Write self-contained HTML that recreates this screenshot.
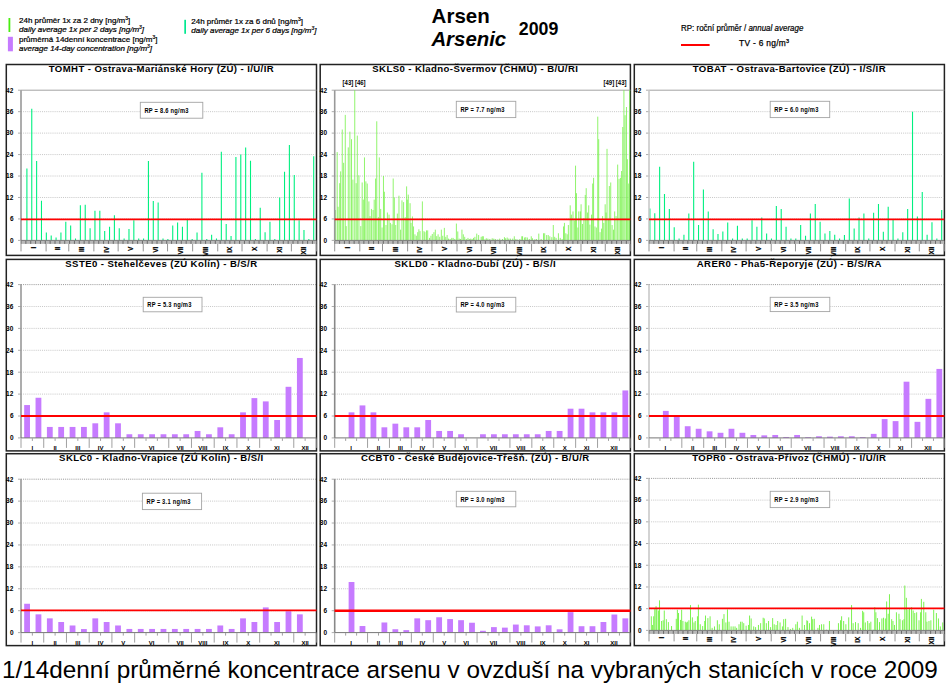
<!DOCTYPE html><html><head><meta charset="utf-8"><style>html,body{margin:0;padding:0;background:#fff;width:950px;height:691px;overflow:hidden;position:relative}</style></head><body><svg width="950" height="691" viewBox="0 0 950 691" font-family='"Liberation Sans", sans-serif' style="position:absolute;left:0;top:0">
<rect x="8.5" y="18" width="1.8" height="14" fill="#48EE10"/>
<text x="19" y="23.3" font-size="8" stroke="#000" stroke-width="0.22">24h průměr 1x za 2 dny [ng/m<tspan font-size="5" dy="-3">3</tspan><tspan dy="3">]</tspan></text>
<text x="19" y="32.2" font-size="8" stroke="#000" stroke-width="0.22" font-style="italic">daily average 1x per 2 days [ng/m<tspan font-size="5" dy="-3">3</tspan><tspan dy="3">]</tspan></text>
<rect x="7.9" y="36.8" width="5" height="14.5" fill="#C67BFF"/>
<text x="19" y="41.6" font-size="8" stroke="#000" stroke-width="0.22">průměrná 14denní koncentrace [ng/m<tspan font-size="5" dy="-3">3</tspan><tspan dy="3">]</tspan></text>
<text x="19" y="50.5" font-size="8" stroke="#000" stroke-width="0.22" font-style="italic">average 14-day concentration [ng/m<tspan font-size="5" dy="-3">3</tspan><tspan dy="3">]</tspan></text>
<rect x="184.3" y="19.8" width="1.7" height="14" fill="#00E890"/>
<text x="191.3" y="24.3" font-size="8" stroke="#000" stroke-width="0.22">24h průměr 1x za 6 dnů [ng/m<tspan font-size="5" dy="-3">3</tspan><tspan dy="3">]</tspan></text>
<text x="191.3" y="33.2" font-size="8" stroke="#000" stroke-width="0.22" font-style="italic">daily average 1x per 6 days [ng/m<tspan font-size="5" dy="-3">3</tspan><tspan dy="3">]</tspan></text>
<text x="431.6" y="22.7" font-size="20.5" font-weight="bold">Arsen</text>
<text x="431.4" y="46.3" font-size="20.4" font-weight="bold" font-style="italic">Arsenic</text>
<text x="518.8" y="35" font-size="17.8" font-weight="bold">2009</text>
<text transform="translate(681 31) scale(0.95 1)" font-size="8.4" stroke="#000" stroke-width="0.2">RP: roční průměr / <tspan font-style="italic">annual average</tspan></text>
<rect x="681" y="44" width="28.6" height="2" fill="#F00"/>
<text x="739" y="46.2" font-size="8.4" letter-spacing="0.3" stroke="#000" stroke-width="0.25">TV - 6 ng/m<tspan font-size="5.5" dy="-3.2">3</tspan></text>
<rect x="6.3" y="64.5" width="310.2" height="190.9" fill="#fff" stroke="#222" stroke-width="1.5"/>
<text transform="translate(161.4 71.9) scale(1 0.92)" text-anchor="middle" font-weight="bold" font-size="9.6" letter-spacing="0.4">TOMHT - Ostrava-Mariánské Hory (ZÚ) - I/U/IR</text>
<line x1="21" x2="316.5" y1="218.94" y2="218.94" stroke="#bdbdbd" stroke-width="0.85" stroke-dasharray="1 1.1"/>
<line x1="21" x2="316.5" y1="197.49" y2="197.49" stroke="#bdbdbd" stroke-width="0.85" stroke-dasharray="1 1.1"/>
<line x1="21" x2="316.5" y1="176.03" y2="176.03" stroke="#bdbdbd" stroke-width="0.85" stroke-dasharray="1 1.1"/>
<line x1="21" x2="316.5" y1="154.57" y2="154.57" stroke="#bdbdbd" stroke-width="0.85" stroke-dasharray="1 1.1"/>
<line x1="21" x2="316.5" y1="133.11" y2="133.11" stroke="#bdbdbd" stroke-width="0.85" stroke-dasharray="1 1.1"/>
<line x1="21" x2="316.5" y1="111.66" y2="111.66" stroke="#bdbdbd" stroke-width="0.85" stroke-dasharray="1 1.1"/>
<line x1="21" x2="316.5" y1="90.2" y2="90.2" stroke="#999" stroke-width="0.9"/>
<line x1="18" x2="21" y1="240.4" y2="240.4" stroke="#999" stroke-width="0.8"/>
<text x="13.8" y="242.7" text-anchor="end" font-weight="bold" font-size="6.5" letter-spacing="0.3">0</text>
<line x1="18" x2="21" y1="218.94" y2="218.94" stroke="#999" stroke-width="0.8"/>
<text x="13.8" y="221.24" text-anchor="end" font-weight="bold" font-size="6.5" letter-spacing="0.3">6</text>
<line x1="18" x2="21" y1="197.49" y2="197.49" stroke="#999" stroke-width="0.8"/>
<text x="13.8" y="199.79" text-anchor="end" font-weight="bold" font-size="6.5" letter-spacing="0.3">12</text>
<line x1="18" x2="21" y1="176.03" y2="176.03" stroke="#999" stroke-width="0.8"/>
<text x="13.8" y="178.33" text-anchor="end" font-weight="bold" font-size="6.5" letter-spacing="0.3">18</text>
<line x1="18" x2="21" y1="154.57" y2="154.57" stroke="#999" stroke-width="0.8"/>
<text x="13.8" y="156.87" text-anchor="end" font-weight="bold" font-size="6.5" letter-spacing="0.3">24</text>
<line x1="18" x2="21" y1="133.11" y2="133.11" stroke="#999" stroke-width="0.8"/>
<text x="13.8" y="135.41" text-anchor="end" font-weight="bold" font-size="6.5" letter-spacing="0.3">30</text>
<line x1="18" x2="21" y1="111.66" y2="111.66" stroke="#999" stroke-width="0.8"/>
<text x="13.8" y="113.96" text-anchor="end" font-weight="bold" font-size="6.5" letter-spacing="0.3">36</text>
<line x1="18" x2="21" y1="90.2" y2="90.2" stroke="#999" stroke-width="0.8"/>
<text x="13.8" y="92.5" text-anchor="end" font-weight="bold" font-size="6.5" letter-spacing="0.3">42</text>
<rect x="320.2" y="64.5" width="310.2" height="190.9" fill="#fff" stroke="#222" stroke-width="1.5"/>
<text transform="translate(475.3 71.9) scale(1 0.92)" text-anchor="middle" font-weight="bold" font-size="9.6" letter-spacing="0.4">SKLS0 - Kladno-Švermov (ČHMÚ) - B/U/RI</text>
<line x1="334.7" x2="630.4" y1="218.94" y2="218.94" stroke="#bdbdbd" stroke-width="0.85" stroke-dasharray="1 1.1"/>
<line x1="334.7" x2="630.4" y1="197.49" y2="197.49" stroke="#bdbdbd" stroke-width="0.85" stroke-dasharray="1 1.1"/>
<line x1="334.7" x2="630.4" y1="176.03" y2="176.03" stroke="#bdbdbd" stroke-width="0.85" stroke-dasharray="1 1.1"/>
<line x1="334.7" x2="630.4" y1="154.57" y2="154.57" stroke="#bdbdbd" stroke-width="0.85" stroke-dasharray="1 1.1"/>
<line x1="334.7" x2="630.4" y1="133.11" y2="133.11" stroke="#bdbdbd" stroke-width="0.85" stroke-dasharray="1 1.1"/>
<line x1="334.7" x2="630.4" y1="111.66" y2="111.66" stroke="#bdbdbd" stroke-width="0.85" stroke-dasharray="1 1.1"/>
<line x1="334.7" x2="630.4" y1="90.2" y2="90.2" stroke="#999" stroke-width="0.9"/>
<line x1="331.7" x2="334.7" y1="240.4" y2="240.4" stroke="#999" stroke-width="0.8"/>
<text x="327.5" y="242.7" text-anchor="end" font-weight="bold" font-size="6.5" letter-spacing="0.3">0</text>
<line x1="331.7" x2="334.7" y1="218.94" y2="218.94" stroke="#999" stroke-width="0.8"/>
<text x="327.5" y="221.24" text-anchor="end" font-weight="bold" font-size="6.5" letter-spacing="0.3">6</text>
<line x1="331.7" x2="334.7" y1="197.49" y2="197.49" stroke="#999" stroke-width="0.8"/>
<text x="327.5" y="199.79" text-anchor="end" font-weight="bold" font-size="6.5" letter-spacing="0.3">12</text>
<line x1="331.7" x2="334.7" y1="176.03" y2="176.03" stroke="#999" stroke-width="0.8"/>
<text x="327.5" y="178.33" text-anchor="end" font-weight="bold" font-size="6.5" letter-spacing="0.3">18</text>
<line x1="331.7" x2="334.7" y1="154.57" y2="154.57" stroke="#999" stroke-width="0.8"/>
<text x="327.5" y="156.87" text-anchor="end" font-weight="bold" font-size="6.5" letter-spacing="0.3">24</text>
<line x1="331.7" x2="334.7" y1="133.11" y2="133.11" stroke="#999" stroke-width="0.8"/>
<text x="327.5" y="135.41" text-anchor="end" font-weight="bold" font-size="6.5" letter-spacing="0.3">30</text>
<line x1="331.7" x2="334.7" y1="111.66" y2="111.66" stroke="#999" stroke-width="0.8"/>
<text x="327.5" y="113.96" text-anchor="end" font-weight="bold" font-size="6.5" letter-spacing="0.3">36</text>
<line x1="331.7" x2="334.7" y1="90.2" y2="90.2" stroke="#999" stroke-width="0.8"/>
<text x="327.5" y="92.5" text-anchor="end" font-weight="bold" font-size="6.5" letter-spacing="0.3">42</text>
<rect x="634.3" y="64.5" width="310.1" height="190.9" fill="#fff" stroke="#222" stroke-width="1.5"/>
<text transform="translate(789.35 71.9) scale(1 0.92)" text-anchor="middle" font-weight="bold" font-size="9.6" letter-spacing="0.4">TOBAT - Ostrava-Bartovice (ZÚ) - I/S/IR</text>
<line x1="649" x2="944.4" y1="218.94" y2="218.94" stroke="#bdbdbd" stroke-width="0.85" stroke-dasharray="1 1.1"/>
<line x1="649" x2="944.4" y1="197.49" y2="197.49" stroke="#bdbdbd" stroke-width="0.85" stroke-dasharray="1 1.1"/>
<line x1="649" x2="944.4" y1="176.03" y2="176.03" stroke="#bdbdbd" stroke-width="0.85" stroke-dasharray="1 1.1"/>
<line x1="649" x2="944.4" y1="154.57" y2="154.57" stroke="#bdbdbd" stroke-width="0.85" stroke-dasharray="1 1.1"/>
<line x1="649" x2="944.4" y1="133.11" y2="133.11" stroke="#bdbdbd" stroke-width="0.85" stroke-dasharray="1 1.1"/>
<line x1="649" x2="944.4" y1="111.66" y2="111.66" stroke="#bdbdbd" stroke-width="0.85" stroke-dasharray="1 1.1"/>
<line x1="649" x2="944.4" y1="90.2" y2="90.2" stroke="#999" stroke-width="0.9"/>
<line x1="646" x2="649" y1="240.4" y2="240.4" stroke="#999" stroke-width="0.8"/>
<text x="641.8" y="242.7" text-anchor="end" font-weight="bold" font-size="6.5" letter-spacing="0.3">0</text>
<line x1="646" x2="649" y1="218.94" y2="218.94" stroke="#999" stroke-width="0.8"/>
<text x="641.8" y="221.24" text-anchor="end" font-weight="bold" font-size="6.5" letter-spacing="0.3">6</text>
<line x1="646" x2="649" y1="197.49" y2="197.49" stroke="#999" stroke-width="0.8"/>
<text x="641.8" y="199.79" text-anchor="end" font-weight="bold" font-size="6.5" letter-spacing="0.3">12</text>
<line x1="646" x2="649" y1="176.03" y2="176.03" stroke="#999" stroke-width="0.8"/>
<text x="641.8" y="178.33" text-anchor="end" font-weight="bold" font-size="6.5" letter-spacing="0.3">18</text>
<line x1="646" x2="649" y1="154.57" y2="154.57" stroke="#999" stroke-width="0.8"/>
<text x="641.8" y="156.87" text-anchor="end" font-weight="bold" font-size="6.5" letter-spacing="0.3">24</text>
<line x1="646" x2="649" y1="133.11" y2="133.11" stroke="#999" stroke-width="0.8"/>
<text x="641.8" y="135.41" text-anchor="end" font-weight="bold" font-size="6.5" letter-spacing="0.3">30</text>
<line x1="646" x2="649" y1="111.66" y2="111.66" stroke="#999" stroke-width="0.8"/>
<text x="641.8" y="113.96" text-anchor="end" font-weight="bold" font-size="6.5" letter-spacing="0.3">36</text>
<line x1="646" x2="649" y1="90.2" y2="90.2" stroke="#999" stroke-width="0.8"/>
<text x="641.8" y="92.5" text-anchor="end" font-weight="bold" font-size="6.5" letter-spacing="0.3">42</text>
<rect x="6.3" y="259.4" width="310.2" height="191.5" fill="#fff" stroke="#222" stroke-width="1.5"/>
<text transform="translate(161.4 266.8) scale(1 0.92)" text-anchor="middle" font-weight="bold" font-size="9.6" letter-spacing="0.4">SSTE0 - Stehelčeves (ZÚ Kolín) - B/S/R</text>
<line x1="21" x2="316.5" y1="416" y2="416" stroke="#bdbdbd" stroke-width="0.85" stroke-dasharray="1 1.1"/>
<line x1="21" x2="316.5" y1="394.1" y2="394.1" stroke="#bdbdbd" stroke-width="0.85" stroke-dasharray="1 1.1"/>
<line x1="21" x2="316.5" y1="372.2" y2="372.2" stroke="#bdbdbd" stroke-width="0.85" stroke-dasharray="1 1.1"/>
<line x1="21" x2="316.5" y1="350.3" y2="350.3" stroke="#bdbdbd" stroke-width="0.85" stroke-dasharray="1 1.1"/>
<line x1="21" x2="316.5" y1="328.4" y2="328.4" stroke="#bdbdbd" stroke-width="0.85" stroke-dasharray="1 1.1"/>
<line x1="21" x2="316.5" y1="306.5" y2="306.5" stroke="#bdbdbd" stroke-width="0.85" stroke-dasharray="1 1.1"/>
<line x1="21" x2="316.5" y1="284.6" y2="284.6" stroke="#8a8a8a" stroke-width="0.9" stroke-dasharray="1 1.1"/>
<line x1="18" x2="21" y1="437.9" y2="437.9" stroke="#999" stroke-width="0.8"/>
<text x="13.8" y="440.2" text-anchor="end" font-weight="bold" font-size="6.5" letter-spacing="0.3">0</text>
<line x1="18" x2="21" y1="416" y2="416" stroke="#999" stroke-width="0.8"/>
<text x="13.8" y="418.3" text-anchor="end" font-weight="bold" font-size="6.5" letter-spacing="0.3">6</text>
<line x1="18" x2="21" y1="394.1" y2="394.1" stroke="#999" stroke-width="0.8"/>
<text x="13.8" y="396.4" text-anchor="end" font-weight="bold" font-size="6.5" letter-spacing="0.3">12</text>
<line x1="18" x2="21" y1="372.2" y2="372.2" stroke="#999" stroke-width="0.8"/>
<text x="13.8" y="374.5" text-anchor="end" font-weight="bold" font-size="6.5" letter-spacing="0.3">18</text>
<line x1="18" x2="21" y1="350.3" y2="350.3" stroke="#999" stroke-width="0.8"/>
<text x="13.8" y="352.6" text-anchor="end" font-weight="bold" font-size="6.5" letter-spacing="0.3">24</text>
<line x1="18" x2="21" y1="328.4" y2="328.4" stroke="#999" stroke-width="0.8"/>
<text x="13.8" y="330.7" text-anchor="end" font-weight="bold" font-size="6.5" letter-spacing="0.3">30</text>
<line x1="18" x2="21" y1="306.5" y2="306.5" stroke="#999" stroke-width="0.8"/>
<text x="13.8" y="308.8" text-anchor="end" font-weight="bold" font-size="6.5" letter-spacing="0.3">36</text>
<line x1="18" x2="21" y1="284.6" y2="284.6" stroke="#999" stroke-width="0.8"/>
<text x="13.8" y="286.9" text-anchor="end" font-weight="bold" font-size="6.5" letter-spacing="0.3">42</text>
<rect x="320.2" y="259.4" width="310.2" height="191.5" fill="#fff" stroke="#222" stroke-width="1.5"/>
<text transform="translate(475.3 266.8) scale(1 0.92)" text-anchor="middle" font-weight="bold" font-size="9.6" letter-spacing="0.4">SKLD0 - Kladno-Dubí (ZÚ) - B/S/I</text>
<line x1="334.7" x2="630.4" y1="416" y2="416" stroke="#bdbdbd" stroke-width="0.85" stroke-dasharray="1 1.1"/>
<line x1="334.7" x2="630.4" y1="394.1" y2="394.1" stroke="#bdbdbd" stroke-width="0.85" stroke-dasharray="1 1.1"/>
<line x1="334.7" x2="630.4" y1="372.2" y2="372.2" stroke="#bdbdbd" stroke-width="0.85" stroke-dasharray="1 1.1"/>
<line x1="334.7" x2="630.4" y1="350.3" y2="350.3" stroke="#bdbdbd" stroke-width="0.85" stroke-dasharray="1 1.1"/>
<line x1="334.7" x2="630.4" y1="328.4" y2="328.4" stroke="#bdbdbd" stroke-width="0.85" stroke-dasharray="1 1.1"/>
<line x1="334.7" x2="630.4" y1="306.5" y2="306.5" stroke="#bdbdbd" stroke-width="0.85" stroke-dasharray="1 1.1"/>
<line x1="334.7" x2="630.4" y1="284.6" y2="284.6" stroke="#8a8a8a" stroke-width="0.9" stroke-dasharray="1 1.1"/>
<line x1="331.7" x2="334.7" y1="437.9" y2="437.9" stroke="#999" stroke-width="0.8"/>
<text x="327.5" y="440.2" text-anchor="end" font-weight="bold" font-size="6.5" letter-spacing="0.3">0</text>
<line x1="331.7" x2="334.7" y1="416" y2="416" stroke="#999" stroke-width="0.8"/>
<text x="327.5" y="418.3" text-anchor="end" font-weight="bold" font-size="6.5" letter-spacing="0.3">6</text>
<line x1="331.7" x2="334.7" y1="394.1" y2="394.1" stroke="#999" stroke-width="0.8"/>
<text x="327.5" y="396.4" text-anchor="end" font-weight="bold" font-size="6.5" letter-spacing="0.3">12</text>
<line x1="331.7" x2="334.7" y1="372.2" y2="372.2" stroke="#999" stroke-width="0.8"/>
<text x="327.5" y="374.5" text-anchor="end" font-weight="bold" font-size="6.5" letter-spacing="0.3">18</text>
<line x1="331.7" x2="334.7" y1="350.3" y2="350.3" stroke="#999" stroke-width="0.8"/>
<text x="327.5" y="352.6" text-anchor="end" font-weight="bold" font-size="6.5" letter-spacing="0.3">24</text>
<line x1="331.7" x2="334.7" y1="328.4" y2="328.4" stroke="#999" stroke-width="0.8"/>
<text x="327.5" y="330.7" text-anchor="end" font-weight="bold" font-size="6.5" letter-spacing="0.3">30</text>
<line x1="331.7" x2="334.7" y1="306.5" y2="306.5" stroke="#999" stroke-width="0.8"/>
<text x="327.5" y="308.8" text-anchor="end" font-weight="bold" font-size="6.5" letter-spacing="0.3">36</text>
<line x1="331.7" x2="334.7" y1="284.6" y2="284.6" stroke="#999" stroke-width="0.8"/>
<text x="327.5" y="286.9" text-anchor="end" font-weight="bold" font-size="6.5" letter-spacing="0.3">42</text>
<rect x="634.3" y="259.4" width="310.1" height="191.5" fill="#fff" stroke="#222" stroke-width="1.5"/>
<text transform="translate(789.35 266.8) scale(1 0.92)" text-anchor="middle" font-weight="bold" font-size="9.6" letter-spacing="0.4">ARER0 - Pha5-Řeporyje (ZÚ) - B/S/RA</text>
<line x1="649" x2="944.4" y1="416" y2="416" stroke="#bdbdbd" stroke-width="0.85" stroke-dasharray="1 1.1"/>
<line x1="649" x2="944.4" y1="394.1" y2="394.1" stroke="#bdbdbd" stroke-width="0.85" stroke-dasharray="1 1.1"/>
<line x1="649" x2="944.4" y1="372.2" y2="372.2" stroke="#bdbdbd" stroke-width="0.85" stroke-dasharray="1 1.1"/>
<line x1="649" x2="944.4" y1="350.3" y2="350.3" stroke="#bdbdbd" stroke-width="0.85" stroke-dasharray="1 1.1"/>
<line x1="649" x2="944.4" y1="328.4" y2="328.4" stroke="#bdbdbd" stroke-width="0.85" stroke-dasharray="1 1.1"/>
<line x1="649" x2="944.4" y1="306.5" y2="306.5" stroke="#bdbdbd" stroke-width="0.85" stroke-dasharray="1 1.1"/>
<line x1="649" x2="944.4" y1="284.6" y2="284.6" stroke="#8a8a8a" stroke-width="0.9" stroke-dasharray="1 1.1"/>
<line x1="646" x2="649" y1="437.9" y2="437.9" stroke="#999" stroke-width="0.8"/>
<text x="641.8" y="440.2" text-anchor="end" font-weight="bold" font-size="6.5" letter-spacing="0.3">0</text>
<line x1="646" x2="649" y1="416" y2="416" stroke="#999" stroke-width="0.8"/>
<text x="641.8" y="418.3" text-anchor="end" font-weight="bold" font-size="6.5" letter-spacing="0.3">6</text>
<line x1="646" x2="649" y1="394.1" y2="394.1" stroke="#999" stroke-width="0.8"/>
<text x="641.8" y="396.4" text-anchor="end" font-weight="bold" font-size="6.5" letter-spacing="0.3">12</text>
<line x1="646" x2="649" y1="372.2" y2="372.2" stroke="#999" stroke-width="0.8"/>
<text x="641.8" y="374.5" text-anchor="end" font-weight="bold" font-size="6.5" letter-spacing="0.3">18</text>
<line x1="646" x2="649" y1="350.3" y2="350.3" stroke="#999" stroke-width="0.8"/>
<text x="641.8" y="352.6" text-anchor="end" font-weight="bold" font-size="6.5" letter-spacing="0.3">24</text>
<line x1="646" x2="649" y1="328.4" y2="328.4" stroke="#999" stroke-width="0.8"/>
<text x="641.8" y="330.7" text-anchor="end" font-weight="bold" font-size="6.5" letter-spacing="0.3">30</text>
<line x1="646" x2="649" y1="306.5" y2="306.5" stroke="#999" stroke-width="0.8"/>
<text x="641.8" y="308.8" text-anchor="end" font-weight="bold" font-size="6.5" letter-spacing="0.3">36</text>
<line x1="646" x2="649" y1="284.6" y2="284.6" stroke="#999" stroke-width="0.8"/>
<text x="641.8" y="286.9" text-anchor="end" font-weight="bold" font-size="6.5" letter-spacing="0.3">42</text>
<rect x="6.3" y="453.7" width="310.2" height="191.9" fill="#fff" stroke="#222" stroke-width="1.5"/>
<text transform="translate(161.4 461.1) scale(1 0.92)" text-anchor="middle" font-weight="bold" font-size="9.6" letter-spacing="0.4">SKLC0 - Kladno-Vrapice (ZÚ Kolín) - B/S/I</text>
<line x1="21" x2="316.5" y1="610.69" y2="610.69" stroke="#bdbdbd" stroke-width="0.85" stroke-dasharray="1 1.1"/>
<line x1="21" x2="316.5" y1="588.77" y2="588.77" stroke="#bdbdbd" stroke-width="0.85" stroke-dasharray="1 1.1"/>
<line x1="21" x2="316.5" y1="566.86" y2="566.86" stroke="#bdbdbd" stroke-width="0.85" stroke-dasharray="1 1.1"/>
<line x1="21" x2="316.5" y1="544.94" y2="544.94" stroke="#bdbdbd" stroke-width="0.85" stroke-dasharray="1 1.1"/>
<line x1="21" x2="316.5" y1="523.03" y2="523.03" stroke="#bdbdbd" stroke-width="0.85" stroke-dasharray="1 1.1"/>
<line x1="21" x2="316.5" y1="501.11" y2="501.11" stroke="#bdbdbd" stroke-width="0.85" stroke-dasharray="1 1.1"/>
<line x1="21" x2="316.5" y1="479.2" y2="479.2" stroke="#8a8a8a" stroke-width="0.9" stroke-dasharray="1 1.1"/>
<line x1="18" x2="21" y1="632.6" y2="632.6" stroke="#999" stroke-width="0.8"/>
<text x="13.8" y="634.9" text-anchor="end" font-weight="bold" font-size="6.5" letter-spacing="0.3">0</text>
<line x1="18" x2="21" y1="610.69" y2="610.69" stroke="#999" stroke-width="0.8"/>
<text x="13.8" y="612.99" text-anchor="end" font-weight="bold" font-size="6.5" letter-spacing="0.3">6</text>
<line x1="18" x2="21" y1="588.77" y2="588.77" stroke="#999" stroke-width="0.8"/>
<text x="13.8" y="591.07" text-anchor="end" font-weight="bold" font-size="6.5" letter-spacing="0.3">12</text>
<line x1="18" x2="21" y1="566.86" y2="566.86" stroke="#999" stroke-width="0.8"/>
<text x="13.8" y="569.16" text-anchor="end" font-weight="bold" font-size="6.5" letter-spacing="0.3">18</text>
<line x1="18" x2="21" y1="544.94" y2="544.94" stroke="#999" stroke-width="0.8"/>
<text x="13.8" y="547.24" text-anchor="end" font-weight="bold" font-size="6.5" letter-spacing="0.3">24</text>
<line x1="18" x2="21" y1="523.03" y2="523.03" stroke="#999" stroke-width="0.8"/>
<text x="13.8" y="525.33" text-anchor="end" font-weight="bold" font-size="6.5" letter-spacing="0.3">30</text>
<line x1="18" x2="21" y1="501.11" y2="501.11" stroke="#999" stroke-width="0.8"/>
<text x="13.8" y="503.41" text-anchor="end" font-weight="bold" font-size="6.5" letter-spacing="0.3">36</text>
<line x1="18" x2="21" y1="479.2" y2="479.2" stroke="#999" stroke-width="0.8"/>
<text x="13.8" y="481.5" text-anchor="end" font-weight="bold" font-size="6.5" letter-spacing="0.3">42</text>
<rect x="320.2" y="453.7" width="310.2" height="191.9" fill="#fff" stroke="#222" stroke-width="1.5"/>
<text transform="translate(475.3 461.1) scale(1 0.92)" text-anchor="middle" font-weight="bold" font-size="9.6" letter-spacing="0.4">CCBT0 - České Budějovice-Třešň. (ZÚ) - B/U/R</text>
<line x1="334.7" x2="630.4" y1="610.69" y2="610.69" stroke="#bdbdbd" stroke-width="0.85" stroke-dasharray="1 1.1"/>
<line x1="334.7" x2="630.4" y1="588.77" y2="588.77" stroke="#bdbdbd" stroke-width="0.85" stroke-dasharray="1 1.1"/>
<line x1="334.7" x2="630.4" y1="566.86" y2="566.86" stroke="#bdbdbd" stroke-width="0.85" stroke-dasharray="1 1.1"/>
<line x1="334.7" x2="630.4" y1="544.94" y2="544.94" stroke="#bdbdbd" stroke-width="0.85" stroke-dasharray="1 1.1"/>
<line x1="334.7" x2="630.4" y1="523.03" y2="523.03" stroke="#bdbdbd" stroke-width="0.85" stroke-dasharray="1 1.1"/>
<line x1="334.7" x2="630.4" y1="501.11" y2="501.11" stroke="#bdbdbd" stroke-width="0.85" stroke-dasharray="1 1.1"/>
<line x1="334.7" x2="630.4" y1="479.2" y2="479.2" stroke="#8a8a8a" stroke-width="0.9" stroke-dasharray="1 1.1"/>
<line x1="331.7" x2="334.7" y1="632.6" y2="632.6" stroke="#999" stroke-width="0.8"/>
<text x="327.5" y="634.9" text-anchor="end" font-weight="bold" font-size="6.5" letter-spacing="0.3">0</text>
<line x1="331.7" x2="334.7" y1="610.69" y2="610.69" stroke="#999" stroke-width="0.8"/>
<text x="327.5" y="612.99" text-anchor="end" font-weight="bold" font-size="6.5" letter-spacing="0.3">6</text>
<line x1="331.7" x2="334.7" y1="588.77" y2="588.77" stroke="#999" stroke-width="0.8"/>
<text x="327.5" y="591.07" text-anchor="end" font-weight="bold" font-size="6.5" letter-spacing="0.3">12</text>
<line x1="331.7" x2="334.7" y1="566.86" y2="566.86" stroke="#999" stroke-width="0.8"/>
<text x="327.5" y="569.16" text-anchor="end" font-weight="bold" font-size="6.5" letter-spacing="0.3">18</text>
<line x1="331.7" x2="334.7" y1="544.94" y2="544.94" stroke="#999" stroke-width="0.8"/>
<text x="327.5" y="547.24" text-anchor="end" font-weight="bold" font-size="6.5" letter-spacing="0.3">24</text>
<line x1="331.7" x2="334.7" y1="523.03" y2="523.03" stroke="#999" stroke-width="0.8"/>
<text x="327.5" y="525.33" text-anchor="end" font-weight="bold" font-size="6.5" letter-spacing="0.3">30</text>
<line x1="331.7" x2="334.7" y1="501.11" y2="501.11" stroke="#999" stroke-width="0.8"/>
<text x="327.5" y="503.41" text-anchor="end" font-weight="bold" font-size="6.5" letter-spacing="0.3">36</text>
<line x1="331.7" x2="334.7" y1="479.2" y2="479.2" stroke="#999" stroke-width="0.8"/>
<text x="327.5" y="481.5" text-anchor="end" font-weight="bold" font-size="6.5" letter-spacing="0.3">42</text>
<rect x="634.3" y="453.7" width="310.1" height="191.9" fill="#fff" stroke="#222" stroke-width="1.5"/>
<text transform="translate(789.35 461.1) scale(1 0.92)" text-anchor="middle" font-weight="bold" font-size="9.6" letter-spacing="0.4">TOPR0 - Ostrava-Přívoz (ČHMÚ) - I/U/IR</text>
<line x1="649" x2="944.4" y1="608.69" y2="608.69" stroke="#bdbdbd" stroke-width="0.85" stroke-dasharray="1 1.1"/>
<line x1="649" x2="944.4" y1="586.97" y2="586.97" stroke="#bdbdbd" stroke-width="0.85" stroke-dasharray="1 1.1"/>
<line x1="649" x2="944.4" y1="565.26" y2="565.26" stroke="#bdbdbd" stroke-width="0.85" stroke-dasharray="1 1.1"/>
<line x1="649" x2="944.4" y1="543.54" y2="543.54" stroke="#bdbdbd" stroke-width="0.85" stroke-dasharray="1 1.1"/>
<line x1="649" x2="944.4" y1="521.83" y2="521.83" stroke="#bdbdbd" stroke-width="0.85" stroke-dasharray="1 1.1"/>
<line x1="649" x2="944.4" y1="500.11" y2="500.11" stroke="#bdbdbd" stroke-width="0.85" stroke-dasharray="1 1.1"/>
<line x1="649" x2="944.4" y1="478.4" y2="478.4" stroke="#8a8a8a" stroke-width="0.9" stroke-dasharray="1 1.1"/>
<line x1="646" x2="649" y1="630.4" y2="630.4" stroke="#999" stroke-width="0.8"/>
<text x="641.8" y="632.7" text-anchor="end" font-weight="bold" font-size="6.5" letter-spacing="0.3">0</text>
<line x1="646" x2="649" y1="608.69" y2="608.69" stroke="#999" stroke-width="0.8"/>
<text x="641.8" y="610.99" text-anchor="end" font-weight="bold" font-size="6.5" letter-spacing="0.3">6</text>
<line x1="646" x2="649" y1="586.97" y2="586.97" stroke="#999" stroke-width="0.8"/>
<text x="641.8" y="589.27" text-anchor="end" font-weight="bold" font-size="6.5" letter-spacing="0.3">12</text>
<line x1="646" x2="649" y1="565.26" y2="565.26" stroke="#999" stroke-width="0.8"/>
<text x="641.8" y="567.56" text-anchor="end" font-weight="bold" font-size="6.5" letter-spacing="0.3">18</text>
<line x1="646" x2="649" y1="543.54" y2="543.54" stroke="#999" stroke-width="0.8"/>
<text x="641.8" y="545.84" text-anchor="end" font-weight="bold" font-size="6.5" letter-spacing="0.3">24</text>
<line x1="646" x2="649" y1="521.83" y2="521.83" stroke="#999" stroke-width="0.8"/>
<text x="641.8" y="524.13" text-anchor="end" font-weight="bold" font-size="6.5" letter-spacing="0.3">30</text>
<line x1="646" x2="649" y1="500.11" y2="500.11" stroke="#999" stroke-width="0.8"/>
<text x="641.8" y="502.41" text-anchor="end" font-weight="bold" font-size="6.5" letter-spacing="0.3">36</text>
<line x1="646" x2="649" y1="478.4" y2="478.4" stroke="#999" stroke-width="0.8"/>
<text x="641.8" y="480.7" text-anchor="end" font-weight="bold" font-size="6.5" letter-spacing="0.3">42</text>
<path d="M26.9 240.4v-71.88M31.76 240.4v-131.6M36.62 240.4v-79.39M41.48 240.4v-39.7M46.34 240.4v-7.87M51.21 240.4v-5.01M56.07 240.4v-2.86M60.93 240.4v-7.87M65.79 240.4v-18.6M70.65 240.4v-15.02M75.51 240.4v-1.79M80.37 240.4v-35.05M85.23 240.4v-35.76M90.09 240.4v-12.16M94.95 240.4v-29.68M99.82 240.4v-29.68M104.68 240.4v-9.3M109.54 240.4v-13.59M114.4 240.4v-25.03M119.26 240.4v-12.16M124.12 240.4v-1.79M128.98 240.4v-11.44M133.84 240.4v-20.03M138.7 240.4v-1.79M143.56 240.4v-1.79M148.43 240.4v-79.39M153.29 240.4v-39.34M158.15 240.4v-37.91M163.01 240.4v-1.79M167.87 240.4v-1.43M172.73 240.4v-15.02M177.59 240.4v-17.88M182.45 240.4v-13.59M187.31 240.4v-20.38M192.17 240.4v-1.43M197.04 240.4v-7.87M201.9 240.4v-67.59M206.76 240.4v-1.43M211.62 240.4v-5.72M216.48 240.4v-1.79M221.34 240.4v-88.69M226.2 240.4v-16.45M231.06 240.4v-4.29M235.92 240.4v-83.33M240.78 240.4v-85.83M245.65 240.4v-92.98M250.51 240.4v-79.75M255.37 240.4v-1.43M260.23 240.4v-32.54M265.09 240.4v-8.23M269.95 240.4v-18.6M274.81 240.4v-1.43M279.67 240.4v-42.91M284.53 240.4v-68.66M289.39 240.4v-95.48M294.26 240.4v-65.44M299.12 240.4v-20.03M303.98 240.4v-10.37M308.84 240.4v-1.43M313.7 240.4v-84.04" stroke="#00F080" stroke-width="1.1" fill="none"/>
<path d="M649.9 240.4v-32.01M654.76 240.4v-27.18M659.63 240.4v-73.67M664.49 240.4v-46.49M669.35 240.4v-31.47M674.22 240.4v-13.23M679.08 240.4v-2M683.94 240.4v-5.72M688.81 240.4v-26.82M693.67 240.4v-78.68M698.53 240.4v-15.38M703.4 240.4v-50.78M708.26 240.4v-28.97M713.12 240.4v-11.09M717.99 240.4v-6.44M722.85 240.4v-8.94M727.71 240.4v-17.88M732.58 240.4v-2M737.44 240.4v-14.66M742.3 240.4v-2M747.17 240.4v-2M752.03 240.4v-20.03M756.89 240.4v-13.59M761.76 240.4v-22.89M766.62 240.4v-6.79M771.48 240.4v-2M776.35 240.4v-34.33M781.21 240.4v-31.47M786.07 240.4v-13.59M790.94 240.4v-2M795.8 240.4v-2M800.66 240.4v-15.38M805.53 240.4v-4.65M810.39 240.4v-26.82M815.25 240.4v-36.48M820.12 240.4v-18.6M824.98 240.4v-6.79M829.84 240.4v-9.3M834.71 240.4v-5.72M839.57 240.4v-2M844.43 240.4v-5.36M849.3 240.4v-41.84M854.16 240.4v-11.8M859.02 240.4v-22.89M863.89 240.4v-26.82M868.75 240.4v-2M873.61 240.4v-27.54M878.48 240.4v-36.48M883.34 240.4v-8.58M888.2 240.4v-33.62M893.07 240.4v-20.38M897.93 240.4v-2M902.79 240.4v-8.23M907.66 240.4v-31.47M912.52 240.4v-128.74M917.38 240.4v-23.96M922.25 240.4v-48.28M927.11 240.4v-5.72M931.97 240.4v-18.24M936.84 240.4v-2M941.7 240.4v-30.4" stroke="#00F080" stroke-width="1.1" fill="none"/>
<path d="M335.31 240.4v-30.4M337.17 240.4v-88.33M338.09 240.4v-33.62M339.71 240.4v-57.22M340.64 240.4v-69.02M342.26 240.4v-110.86M343.65 240.4v-77.6M345.27 240.4v-125.52M346.19 240.4v-14.3M348.28 240.4v-92.98M349.9 240.4v-108.72M351.52 240.4v-101.21M352.91 240.4v-60.8M354.76 240.4v-150.2M356.15 240.4v-57.22M357.31 240.4v-104.78M358.93 240.4v-65.09M360.78 240.4v-14.3M362.17 240.4v-57.93M363.32 240.4v-40.77M364.48 240.4v-82.97M365.87 240.4v-59.01M367.26 240.4v-56.86M368.88 240.4v-38.98M370.04 240.4v-24.32M371.43 240.4v-31.47M373.05 240.4v-30.4M374.2 240.4v-40.77M375.59 240.4v-61.87M376.75 240.4v-119.09M378.37 240.4v-23.25M379.3 240.4v-82.97M380.69 240.4v-31.47M382.07 240.4v-12.87M383.46 240.4v-64.37M384.39 240.4v-48.64M386.01 240.4v-15.38M387.4 240.4v-27.89M389.02 240.4v-25.75M390.41 240.4v-17.52M392.03 240.4v-16.09M393.19 240.4v-61.87M394.34 240.4v-42.91M395.73 240.4v-15.38M397.35 240.4v-26.82M398.97 240.4v-44.7M400.59 240.4v-10.73M401.98 240.4v-40.05M403.6 240.4v-38.27M405.22 240.4v-23.25M406.61 240.4v-54M407.31 240.4v-40.77M408.24 240.4v-45.78M410.09 240.4v-37.19M411.02 240.4v-17.52M412.41 240.4v-23.96M413.56 240.4v-13.95M414.95 240.4v-6.08M416.34 240.4v-4.65M417.73 240.4v-8.23M418.89 240.4v-11.09M420.05 240.4v-9.3M422.36 240.4v-38.98M423.98 240.4v-9.3M424.91 240.4v-8.23M426.53 240.4v-10.01M427.69 240.4v-10.01M429.54 240.4v-2.5M430.93 240.4v-4.65M432.31 240.4v-6.44M433.94 240.4v-8.23M435.32 240.4v-10.73M436.71 240.4v-4.29M438.1 240.4v-6.08M439.72 240.4v-3.58M441.34 240.4v-10.73M442.73 240.4v-4.65M444.35 240.4v-12.52M445.74 240.4v-3.58M447.13 240.4v-5.36M448.52 240.4v-1.79M450.14 240.4v-1.43M451.76 240.4v-2.5M453.15 240.4v-2.5M454.77 240.4v-1.43M456.39 240.4v-16.81M457.78 240.4v-8.94M459.17 240.4v-1.79M460.56 240.4v-1.43M461.94 240.4v-10.73M463.33 240.4v-6.08M464.72 240.4v-3.58M466.34 240.4v-1.43M467.96 240.4v-2.5M469.35 240.4v-1.43M470.74 240.4v-1.79M472.13 240.4v-1.43M473.52 240.4v-2.5M474.91 240.4v-3.58M476.76 240.4v-6.79M478.63 240.4v-5.36M481.16 240.4v-3.58M482.34 240.4v-4.11M483.37 240.4v-4.11M484.95 240.4v-1.07M486.29 240.4v-2.15M487.87 240.4v-1.79M489.84 240.4v-1.43M492.21 240.4v-2.15M493.79 240.4v-1.79M495.36 240.4v-1.43M497.73 240.4v-0.89M499.7 240.4v-1.79M502.47 240.4v-1.43M504.44 240.4v-3.22M505.62 240.4v-2.15M507.2 240.4v-2.86M508.78 240.4v-1.79M510.36 240.4v-1.79M512.73 240.4v-1.79M514.31 240.4v-4.11M515.88 240.4v-1.43M517.46 240.4v-0.72M519.83 240.4v-1.43M521.8 240.4v-4.11M522.59 240.4v-4.11M524.57 240.4v-2.86M525.75 240.4v-3.22M527.33 240.4v-2.86M529.3 240.4v-1.43M531.28 240.4v-4.11M532.46 240.4v-2.15M534.83 240.4v-1.07M536.41 240.4v-1.43M538.77 240.4v-6.79M541.14 240.4v-1.43M543.51 240.4v-7.15M544.69 240.4v-7.15M546.67 240.4v-5.36M548.24 240.4v-5.36M549.82 240.4v-4.11M551.8 240.4v-3.22M553.31 240.4v-15.38M554.7 240.4v-3.58M556.09 240.4v-2.5M558.41 240.4v-7.15M560.26 240.4v-2.5M562.11 240.4v-1.43M563.5 240.4v-13.95M564.43 240.4v-17.52M565.81 240.4v-7.15M567.2 240.4v-6.08M568.36 240.4v-15.38M570.21 240.4v-35.05M571.37 240.4v-25.75M572.99 240.4v-28.97M574.38 240.4v-20.03M575.54 240.4v-74.74M576.46 240.4v-47.21M577.85 240.4v-12.87M578.78 240.4v-28.97M580.4 240.4v-28.97M581.09 240.4v-36.12M582.48 240.4v-16.45M583.87 240.4v-22.17M585.26 240.4v-45.42M586.19 240.4v-52.21M587.57 240.4v-27.89M588.73 240.4v-35.05M589.89 240.4v-15.74M591.51 240.4v-25.75M592.67 240.4v-56.86M593.59 240.4v-62.58M594.98 240.4v-13.95M596.37 240.4v-12.87M597.76 240.4v-123.74M598.69 240.4v-101.21M600.07 240.4v-8.23M601.46 240.4v-11.8M602.62 240.4v-24.32M603.78 240.4v-17.52M605.17 240.4v-36.12M606.09 240.4v-27.89M607.02 240.4v-91.55M608.41 240.4v-21.1M609.33 240.4v-54.36M610.72 240.4v-57.93M612.11 240.4v-15.38M613.5 240.4v-10.73M614.66 240.4v-28.97M616.05 240.4v-24.32M617.67 240.4v-75.82M619.06 240.4v-61.51M620.44 240.4v-62.58M621.6 240.4v-69.38M622.76 240.4v-113.37M623.92 240.4v-150.2M625.07 240.4v-125.17M626.46 240.4v-133.39M627.39 240.4v-81.18M628.78 240.4v-56.86M629.7 240.4v-150.2" stroke="#6CF03C" stroke-width="0.75" fill="none"/>
<rect x="21" y="240.9" width="295.5" height="3" fill="#b8b8b8"/>
<path d="M21 240.9v3M25.86 240.9v3M30.72 240.9v3M35.57 240.9v3M40.43 240.9v3M45.29 240.9v3M50.15 240.9v3M55 240.9v3M59.86 240.9v3M64.72 240.9v3M69.58 240.9v3M74.43 240.9v3M79.29 240.9v3M84.15 240.9v3M89.01 240.9v3M93.86 240.9v3M98.72 240.9v3M103.58 240.9v3M108.44 240.9v3M113.29 240.9v3M118.15 240.9v3M123.01 240.9v3M127.87 240.9v3M132.72 240.9v3M137.58 240.9v3M142.44 240.9v3M147.3 240.9v3M152.15 240.9v3M157.01 240.9v3M161.87 240.9v3M166.73 240.9v3M171.58 240.9v3M176.44 240.9v3M181.3 240.9v3M186.16 240.9v3M191.01 240.9v3M195.87 240.9v3M200.73 240.9v3M205.59 240.9v3M210.44 240.9v3M215.3 240.9v3M220.16 240.9v3M225.02 240.9v3M229.87 240.9v3M234.73 240.9v3M239.59 240.9v3M244.45 240.9v3M249.3 240.9v3M254.16 240.9v3M259.02 240.9v3M263.88 240.9v3M268.73 240.9v3M273.59 240.9v3M278.45 240.9v3M283.31 240.9v3M288.16 240.9v3M293.02 240.9v3M297.88 240.9v3M302.74 240.9v3M307.59 240.9v3M312.45 240.9v3" stroke="#555" stroke-width="0.8"/>
<path d="M21 243.9v7.5M46.1 243.9v7.5M68.77 243.9v7.5M93.86 243.9v7.5M118.15 243.9v7.5M143.25 243.9v7.5M167.54 243.9v7.5M192.63 243.9v7.5M217.73 243.9v7.5M242.02 243.9v7.5M267.12 243.9v7.5M291.4 243.9v7.5M316.5 243.9v7.5" stroke="#888" stroke-width="0.9"/>
<text x="33.55" y="246.6" transform="rotate(-90 33.55 246.6)" text-anchor="end" dominant-baseline="central" font-weight="bold" font-size="6.5" stroke="#000" stroke-width="0.15">I</text>
<text x="57.43" y="246.6" transform="rotate(-90 57.43 246.6)" text-anchor="end" dominant-baseline="central" font-weight="bold" font-size="6.5" stroke="#000" stroke-width="0.15">II</text>
<text x="81.31" y="246.6" transform="rotate(-90 81.31 246.6)" text-anchor="end" dominant-baseline="central" font-weight="bold" font-size="6.5" stroke="#000" stroke-width="0.15">III</text>
<text x="106.01" y="246.6" transform="rotate(-90 106.01 246.6)" text-anchor="end" dominant-baseline="central" font-weight="bold" font-size="6.5" stroke="#000" stroke-width="0.15">IV</text>
<text x="130.7" y="246.6" transform="rotate(-90 130.7 246.6)" text-anchor="end" dominant-baseline="central" font-weight="bold" font-size="6.5" stroke="#000" stroke-width="0.15">V</text>
<text x="155.39" y="246.6" transform="rotate(-90 155.39 246.6)" text-anchor="end" dominant-baseline="central" font-weight="bold" font-size="6.5" stroke="#000" stroke-width="0.15">VI</text>
<text x="180.08" y="246.6" transform="rotate(-90 180.08 246.6)" text-anchor="end" dominant-baseline="central" font-weight="bold" font-size="6.5" stroke="#000" stroke-width="0.15">VII</text>
<text x="205.18" y="246.6" transform="rotate(-90 205.18 246.6)" text-anchor="end" dominant-baseline="central" font-weight="bold" font-size="6.5" stroke="#000" stroke-width="0.15">VIII</text>
<text x="229.87" y="246.6" transform="rotate(-90 229.87 246.6)" text-anchor="end" dominant-baseline="central" font-weight="bold" font-size="6.5" stroke="#000" stroke-width="0.15">IX</text>
<text x="254.57" y="246.6" transform="rotate(-90 254.57 246.6)" text-anchor="end" dominant-baseline="central" font-weight="bold" font-size="6.5" stroke="#000" stroke-width="0.15">X</text>
<text x="279.26" y="246.6" transform="rotate(-90 279.26 246.6)" text-anchor="end" dominant-baseline="central" font-weight="bold" font-size="6.5" stroke="#000" stroke-width="0.15">XI</text>
<text x="303.95" y="246.6" transform="rotate(-90 303.95 246.6)" text-anchor="end" dominant-baseline="central" font-weight="bold" font-size="6.5" stroke="#000" stroke-width="0.15">XII</text>
<line x1="21" x2="21" y1="90.2" y2="240.4" stroke="#999" stroke-width="1.6"/>
<line x1="21" x2="316.5" y1="240.4" y2="240.4" stroke="#777" stroke-width="1"/>
<rect x="334.7" y="240.9" width="295.7" height="3" fill="#b8b8b8"/>
<path d="M334.7 240.9v3M339.56 240.9v3M344.42 240.9v3M349.28 240.9v3M354.14 240.9v3M359 240.9v3M363.86 240.9v3M368.73 240.9v3M373.59 240.9v3M378.45 240.9v3M383.31 240.9v3M388.17 240.9v3M393.03 240.9v3M397.89 240.9v3M402.75 240.9v3M407.61 240.9v3M412.47 240.9v3M417.33 240.9v3M422.19 240.9v3M427.06 240.9v3M431.92 240.9v3M436.78 240.9v3M441.64 240.9v3M446.5 240.9v3M451.36 240.9v3M456.22 240.9v3M461.08 240.9v3M465.94 240.9v3M470.8 240.9v3M475.66 240.9v3M480.52 240.9v3M485.39 240.9v3M490.25 240.9v3M495.11 240.9v3M499.97 240.9v3M504.83 240.9v3M509.69 240.9v3M514.55 240.9v3M519.41 240.9v3M524.27 240.9v3M529.13 240.9v3M533.99 240.9v3M538.85 240.9v3M543.72 240.9v3M548.58 240.9v3M553.44 240.9v3M558.3 240.9v3M563.16 240.9v3M568.02 240.9v3M572.88 240.9v3M577.74 240.9v3M582.6 240.9v3M587.46 240.9v3M592.32 240.9v3M597.18 240.9v3M602.05 240.9v3M606.91 240.9v3M611.77 240.9v3M616.63 240.9v3M621.49 240.9v3M626.35 240.9v3" stroke="#555" stroke-width="0.8"/>
<path d="M334.7 243.9v7.5M359.81 243.9v7.5M382.5 243.9v7.5M407.61 243.9v7.5M431.92 243.9v7.5M457.03 243.9v7.5M481.33 243.9v7.5M506.45 243.9v7.5M531.56 243.9v7.5M555.87 243.9v7.5M580.98 243.9v7.5M605.29 243.9v7.5M630.4 243.9v7.5" stroke="#888" stroke-width="0.9"/>
<text x="347.26" y="246.6" transform="rotate(-90 347.26 246.6)" text-anchor="end" dominant-baseline="central" font-weight="bold" font-size="6.5" stroke="#000" stroke-width="0.15">I</text>
<text x="371.16" y="246.6" transform="rotate(-90 371.16 246.6)" text-anchor="end" dominant-baseline="central" font-weight="bold" font-size="6.5" stroke="#000" stroke-width="0.15">II</text>
<text x="395.06" y="246.6" transform="rotate(-90 395.06 246.6)" text-anchor="end" dominant-baseline="central" font-weight="bold" font-size="6.5" stroke="#000" stroke-width="0.15">III</text>
<text x="419.76" y="246.6" transform="rotate(-90 419.76 246.6)" text-anchor="end" dominant-baseline="central" font-weight="bold" font-size="6.5" stroke="#000" stroke-width="0.15">IV</text>
<text x="444.47" y="246.6" transform="rotate(-90 444.47 246.6)" text-anchor="end" dominant-baseline="central" font-weight="bold" font-size="6.5" stroke="#000" stroke-width="0.15">V</text>
<text x="469.18" y="246.6" transform="rotate(-90 469.18 246.6)" text-anchor="end" dominant-baseline="central" font-weight="bold" font-size="6.5" stroke="#000" stroke-width="0.15">VI</text>
<text x="493.89" y="246.6" transform="rotate(-90 493.89 246.6)" text-anchor="end" dominant-baseline="central" font-weight="bold" font-size="6.5" stroke="#000" stroke-width="0.15">VII</text>
<text x="519.01" y="246.6" transform="rotate(-90 519.01 246.6)" text-anchor="end" dominant-baseline="central" font-weight="bold" font-size="6.5" stroke="#000" stroke-width="0.15">VIII</text>
<text x="543.72" y="246.6" transform="rotate(-90 543.72 246.6)" text-anchor="end" dominant-baseline="central" font-weight="bold" font-size="6.5" stroke="#000" stroke-width="0.15">IX</text>
<text x="568.42" y="246.6" transform="rotate(-90 568.42 246.6)" text-anchor="end" dominant-baseline="central" font-weight="bold" font-size="6.5" stroke="#000" stroke-width="0.15">X</text>
<text x="593.13" y="246.6" transform="rotate(-90 593.13 246.6)" text-anchor="end" dominant-baseline="central" font-weight="bold" font-size="6.5" stroke="#000" stroke-width="0.15">XI</text>
<text x="617.84" y="246.6" transform="rotate(-90 617.84 246.6)" text-anchor="end" dominant-baseline="central" font-weight="bold" font-size="6.5" stroke="#000" stroke-width="0.15">XII</text>
<line x1="334.7" x2="334.7" y1="90.2" y2="240.4" stroke="#999" stroke-width="1.6"/>
<line x1="334.7" x2="630.4" y1="240.4" y2="240.4" stroke="#777" stroke-width="1"/>
<rect x="649" y="240.9" width="295.4" height="3" fill="#b8b8b8"/>
<path d="M649 240.9v3M653.86 240.9v3M658.71 240.9v3M663.57 240.9v3M668.42 240.9v3M673.28 240.9v3M678.14 240.9v3M682.99 240.9v3M687.85 240.9v3M692.7 240.9v3M697.56 240.9v3M702.41 240.9v3M707.27 240.9v3M712.13 240.9v3M716.98 240.9v3M721.84 240.9v3M726.69 240.9v3M731.55 240.9v3M736.41 240.9v3M741.26 240.9v3M746.12 240.9v3M750.97 240.9v3M755.83 240.9v3M760.69 240.9v3M765.54 240.9v3M770.4 240.9v3M775.25 240.9v3M780.11 240.9v3M784.96 240.9v3M789.82 240.9v3M794.68 240.9v3M799.53 240.9v3M804.39 240.9v3M809.24 240.9v3M814.1 240.9v3M818.96 240.9v3M823.81 240.9v3M828.67 240.9v3M833.52 240.9v3M838.38 240.9v3M843.24 240.9v3M848.09 240.9v3M852.95 240.9v3M857.8 240.9v3M862.66 240.9v3M867.52 240.9v3M872.37 240.9v3M877.23 240.9v3M882.08 240.9v3M886.94 240.9v3M891.79 240.9v3M896.65 240.9v3M901.51 240.9v3M906.36 240.9v3M911.22 240.9v3M916.07 240.9v3M920.93 240.9v3M925.79 240.9v3M930.64 240.9v3M935.5 240.9v3M940.35 240.9v3" stroke="#555" stroke-width="0.8"/>
<path d="M649 243.9v7.5M674.09 243.9v7.5M696.75 243.9v7.5M721.84 243.9v7.5M746.12 243.9v7.5M771.21 243.9v7.5M795.49 243.9v7.5M820.57 243.9v7.5M845.66 243.9v7.5M869.94 243.9v7.5M895.03 243.9v7.5M919.31 243.9v7.5M944.4 243.9v7.5" stroke="#888" stroke-width="0.9"/>
<text x="661.54" y="246.6" transform="rotate(-90 661.54 246.6)" text-anchor="end" dominant-baseline="central" font-weight="bold" font-size="6.5" stroke="#000" stroke-width="0.15">I</text>
<text x="685.42" y="246.6" transform="rotate(-90 685.42 246.6)" text-anchor="end" dominant-baseline="central" font-weight="bold" font-size="6.5" stroke="#000" stroke-width="0.15">II</text>
<text x="709.29" y="246.6" transform="rotate(-90 709.29 246.6)" text-anchor="end" dominant-baseline="central" font-weight="bold" font-size="6.5" stroke="#000" stroke-width="0.15">III</text>
<text x="733.98" y="246.6" transform="rotate(-90 733.98 246.6)" text-anchor="end" dominant-baseline="central" font-weight="bold" font-size="6.5" stroke="#000" stroke-width="0.15">IV</text>
<text x="758.66" y="246.6" transform="rotate(-90 758.66 246.6)" text-anchor="end" dominant-baseline="central" font-weight="bold" font-size="6.5" stroke="#000" stroke-width="0.15">V</text>
<text x="783.35" y="246.6" transform="rotate(-90 783.35 246.6)" text-anchor="end" dominant-baseline="central" font-weight="bold" font-size="6.5" stroke="#000" stroke-width="0.15">VI</text>
<text x="808.03" y="246.6" transform="rotate(-90 808.03 246.6)" text-anchor="end" dominant-baseline="central" font-weight="bold" font-size="6.5" stroke="#000" stroke-width="0.15">VII</text>
<text x="833.12" y="246.6" transform="rotate(-90 833.12 246.6)" text-anchor="end" dominant-baseline="central" font-weight="bold" font-size="6.5" stroke="#000" stroke-width="0.15">VIII</text>
<text x="857.8" y="246.6" transform="rotate(-90 857.8 246.6)" text-anchor="end" dominant-baseline="central" font-weight="bold" font-size="6.5" stroke="#000" stroke-width="0.15">IX</text>
<text x="882.49" y="246.6" transform="rotate(-90 882.49 246.6)" text-anchor="end" dominant-baseline="central" font-weight="bold" font-size="6.5" stroke="#000" stroke-width="0.15">X</text>
<text x="907.17" y="246.6" transform="rotate(-90 907.17 246.6)" text-anchor="end" dominant-baseline="central" font-weight="bold" font-size="6.5" stroke="#000" stroke-width="0.15">XI</text>
<text x="931.86" y="246.6" transform="rotate(-90 931.86 246.6)" text-anchor="end" dominant-baseline="central" font-weight="bold" font-size="6.5" stroke="#000" stroke-width="0.15">XII</text>
<line x1="649" x2="649" y1="90.2" y2="240.4" stroke="#c8c8c8" stroke-width="1.6"/>
<line x1="649" x2="944.4" y1="240.4" y2="240.4" stroke="#777" stroke-width="1"/>
<rect x="24.18" y="405.05" width="5.8" height="32.85" fill="#C67BFF"/>
<rect x="35.55" y="397.75" width="5.8" height="40.15" fill="#C67BFF"/>
<rect x="46.91" y="426.95" width="5.8" height="10.95" fill="#C67BFF"/>
<rect x="58.28" y="426.95" width="5.8" height="10.95" fill="#C67BFF"/>
<rect x="69.64" y="426.95" width="5.8" height="10.95" fill="#C67BFF"/>
<rect x="81.01" y="426.95" width="5.8" height="10.95" fill="#C67BFF"/>
<rect x="92.38" y="423.3" width="5.8" height="14.6" fill="#C67BFF"/>
<rect x="103.74" y="412.35" width="5.8" height="25.55" fill="#C67BFF"/>
<rect x="115.11" y="423.3" width="5.8" height="14.6" fill="#C67BFF"/>
<rect x="126.47" y="434.25" width="5.8" height="3.65" fill="#C67BFF"/>
<rect x="137.84" y="434.25" width="5.8" height="3.65" fill="#C67BFF"/>
<rect x="149.2" y="434.25" width="5.8" height="3.65" fill="#C67BFF"/>
<rect x="160.57" y="434.25" width="5.8" height="3.65" fill="#C67BFF"/>
<rect x="171.93" y="434.25" width="5.8" height="3.65" fill="#C67BFF"/>
<rect x="183.3" y="434.25" width="5.8" height="3.65" fill="#C67BFF"/>
<rect x="194.66" y="430.96" width="5.8" height="6.93" fill="#C67BFF"/>
<rect x="206.03" y="434.25" width="5.8" height="3.65" fill="#C67BFF"/>
<rect x="217.39" y="427.31" width="5.8" height="10.58" fill="#C67BFF"/>
<rect x="228.76" y="434.25" width="5.8" height="3.65" fill="#C67BFF"/>
<rect x="240.12" y="412.35" width="5.8" height="25.55" fill="#C67BFF"/>
<rect x="251.49" y="398.12" width="5.8" height="39.78" fill="#C67BFF"/>
<rect x="262.86" y="401.4" width="5.8" height="36.5" fill="#C67BFF"/>
<rect x="274.22" y="420.01" width="5.8" height="17.88" fill="#C67BFF"/>
<rect x="285.59" y="386.8" width="5.8" height="51.1" fill="#C67BFF"/>
<rect x="296.95" y="357.97" width="5.8" height="79.93" fill="#C67BFF"/>
<path d="M21 438.4v9.5M32.37 438.4v2.5M43.73 438.4v9.5M55.1 438.4v2.5M66.46 438.4v9.5M77.83 438.4v2.5M89.19 438.4v9.5M100.56 438.4v2.5M111.92 438.4v9.5M123.29 438.4v2.5M134.65 438.4v9.5M146.02 438.4v2.5M157.38 438.4v2.5M168.75 438.4v9.5M180.12 438.4v2.5M191.48 438.4v9.5M202.85 438.4v2.5M214.21 438.4v9.5M225.58 438.4v2.5M236.94 438.4v9.5M248.31 438.4v2.5M259.67 438.4v9.5M271.04 438.4v2.5M282.4 438.4v2.5M293.77 438.4v9.5M305.13 438.4v2.5M316.5 438.4v9.5" stroke="#888" stroke-width="0.8"/>
<text x="32.37" y="450.1" text-anchor="middle" font-weight="bold" font-size="6">I</text>
<text x="55.1" y="450.1" text-anchor="middle" font-weight="bold" font-size="6">II</text>
<text x="77.83" y="450.1" text-anchor="middle" font-weight="bold" font-size="6">III</text>
<text x="100.56" y="450.1" text-anchor="middle" font-weight="bold" font-size="6">IV</text>
<text x="123.29" y="450.1" text-anchor="middle" font-weight="bold" font-size="6">V</text>
<text x="151.7" y="450.1" text-anchor="middle" font-weight="bold" font-size="6">VI</text>
<text x="180.12" y="450.1" text-anchor="middle" font-weight="bold" font-size="6">VII</text>
<text x="202.85" y="450.1" text-anchor="middle" font-weight="bold" font-size="6">VIII</text>
<text x="225.58" y="450.1" text-anchor="middle" font-weight="bold" font-size="6">IX</text>
<text x="248.31" y="450.1" text-anchor="middle" font-weight="bold" font-size="6">X</text>
<text x="276.72" y="450.1" text-anchor="middle" font-weight="bold" font-size="6">XI</text>
<text x="305.13" y="450.1" text-anchor="middle" font-weight="bold" font-size="6">XII</text>
<line x1="21" x2="21" y1="284.6" y2="437.9" stroke="#999" stroke-width="1.6"/>
<line x1="21" x2="316.5" y1="437.9" y2="437.9" stroke="#777" stroke-width="1"/>
<rect x="348.63" y="412.35" width="5.8" height="25.55" fill="#C67BFF"/>
<rect x="359.58" y="405.41" width="5.8" height="32.48" fill="#C67BFF"/>
<rect x="370.53" y="412.35" width="5.8" height="25.55" fill="#C67BFF"/>
<rect x="381.48" y="427.31" width="5.8" height="10.58" fill="#C67BFF"/>
<rect x="392.44" y="423.66" width="5.8" height="14.23" fill="#C67BFF"/>
<rect x="403.39" y="427.31" width="5.8" height="10.58" fill="#C67BFF"/>
<rect x="414.34" y="427.31" width="5.8" height="10.58" fill="#C67BFF"/>
<rect x="425.29" y="420.01" width="5.8" height="17.88" fill="#C67BFF"/>
<rect x="436.24" y="430.96" width="5.8" height="6.93" fill="#C67BFF"/>
<rect x="447.19" y="430.96" width="5.8" height="6.93" fill="#C67BFF"/>
<rect x="458.15" y="434.25" width="5.8" height="3.65" fill="#C67BFF"/>
<rect x="480.05" y="434.25" width="5.8" height="3.65" fill="#C67BFF"/>
<rect x="491" y="434.25" width="5.8" height="3.65" fill="#C67BFF"/>
<rect x="501.95" y="434.25" width="5.8" height="3.65" fill="#C67BFF"/>
<rect x="512.91" y="434.25" width="5.8" height="3.65" fill="#C67BFF"/>
<rect x="523.86" y="434.25" width="5.8" height="3.65" fill="#C67BFF"/>
<rect x="534.81" y="434.25" width="5.8" height="3.65" fill="#C67BFF"/>
<rect x="545.76" y="430.96" width="5.8" height="6.93" fill="#C67BFF"/>
<rect x="556.71" y="430.96" width="5.8" height="6.93" fill="#C67BFF"/>
<rect x="567.66" y="408.7" width="5.8" height="29.2" fill="#C67BFF"/>
<rect x="578.62" y="408.7" width="5.8" height="29.2" fill="#C67BFF"/>
<rect x="589.57" y="412.35" width="5.8" height="25.55" fill="#C67BFF"/>
<rect x="600.52" y="412.35" width="5.8" height="25.55" fill="#C67BFF"/>
<rect x="611.47" y="412.35" width="5.8" height="25.55" fill="#C67BFF"/>
<rect x="622.42" y="390.45" width="5.8" height="47.45" fill="#C67BFF"/>
<path d="M334.7 438.4v9.5M345.65 438.4v2.5M356.6 438.4v2.5M367.56 438.4v9.5M378.51 438.4v2.5M389.46 438.4v9.5M400.41 438.4v2.5M411.36 438.4v9.5M422.31 438.4v2.5M433.27 438.4v9.5M444.22 438.4v2.5M455.17 438.4v9.5M466.12 438.4v2.5M477.07 438.4v9.5M488.03 438.4v2.5M498.98 438.4v2.5M509.93 438.4v9.5M520.88 438.4v2.5M531.83 438.4v9.5M542.79 438.4v2.5M553.74 438.4v9.5M564.69 438.4v2.5M575.64 438.4v9.5M586.59 438.4v2.5M597.54 438.4v9.5M608.5 438.4v2.5M619.45 438.4v2.5M630.4 438.4v9.5" stroke="#888" stroke-width="0.8"/>
<text x="351.13" y="450.1" text-anchor="middle" font-weight="bold" font-size="6">I</text>
<text x="378.51" y="450.1" text-anchor="middle" font-weight="bold" font-size="6">II</text>
<text x="400.41" y="450.1" text-anchor="middle" font-weight="bold" font-size="6">III</text>
<text x="422.31" y="450.1" text-anchor="middle" font-weight="bold" font-size="6">IV</text>
<text x="444.22" y="450.1" text-anchor="middle" font-weight="bold" font-size="6">V</text>
<text x="466.12" y="450.1" text-anchor="middle" font-weight="bold" font-size="6">VI</text>
<text x="493.5" y="450.1" text-anchor="middle" font-weight="bold" font-size="6">VII</text>
<text x="520.88" y="450.1" text-anchor="middle" font-weight="bold" font-size="6">VIII</text>
<text x="542.79" y="450.1" text-anchor="middle" font-weight="bold" font-size="6">IX</text>
<text x="564.69" y="450.1" text-anchor="middle" font-weight="bold" font-size="6">X</text>
<text x="586.59" y="450.1" text-anchor="middle" font-weight="bold" font-size="6">XI</text>
<text x="613.97" y="450.1" text-anchor="middle" font-weight="bold" font-size="6">XII</text>
<line x1="334.7" x2="334.7" y1="284.6" y2="437.9" stroke="#888" stroke-width="1.6"/>
<line x1="334.7" x2="630.4" y1="437.9" y2="437.9" stroke="#777" stroke-width="1"/>
<rect x="662.91" y="410.89" width="5.8" height="27.01" fill="#C67BFF"/>
<rect x="673.85" y="416" width="5.8" height="21.9" fill="#C67BFF"/>
<rect x="684.79" y="426.22" width="5.8" height="11.68" fill="#C67BFF"/>
<rect x="695.73" y="428.77" width="5.8" height="9.12" fill="#C67BFF"/>
<rect x="706.67" y="431.33" width="5.8" height="6.57" fill="#C67BFF"/>
<rect x="717.61" y="432.79" width="5.8" height="5.11" fill="#C67BFF"/>
<rect x="728.56" y="428.77" width="5.8" height="9.12" fill="#C67BFF"/>
<rect x="739.5" y="432.79" width="5.8" height="5.11" fill="#C67BFF"/>
<rect x="750.44" y="434.98" width="5.8" height="2.92" fill="#C67BFF"/>
<rect x="761.38" y="435.34" width="5.8" height="2.55" fill="#C67BFF"/>
<rect x="772.32" y="434.98" width="5.8" height="2.92" fill="#C67BFF"/>
<rect x="783.26" y="436.99" width="5.8" height="0.91" fill="#C67BFF"/>
<rect x="794.2" y="434.98" width="5.8" height="2.92" fill="#C67BFF"/>
<rect x="805.14" y="437.17" width="5.8" height="0.73" fill="#C67BFF"/>
<rect x="816.08" y="436.26" width="5.8" height="1.64" fill="#C67BFF"/>
<rect x="827.02" y="436.62" width="5.8" height="1.28" fill="#C67BFF"/>
<rect x="837.96" y="436.26" width="5.8" height="1.64" fill="#C67BFF"/>
<rect x="848.9" y="436.26" width="5.8" height="1.64" fill="#C67BFF"/>
<rect x="859.84" y="437.17" width="5.8" height="0.73" fill="#C67BFF"/>
<rect x="870.79" y="433.88" width="5.8" height="4.01" fill="#C67BFF"/>
<rect x="881.73" y="419.1" width="5.8" height="18.8" fill="#C67BFF"/>
<rect x="892.67" y="421.11" width="5.8" height="16.79" fill="#C67BFF"/>
<rect x="903.61" y="381.69" width="5.8" height="56.21" fill="#C67BFF"/>
<rect x="914.55" y="421.84" width="5.8" height="16.06" fill="#C67BFF"/>
<rect x="925.49" y="398.84" width="5.8" height="39.05" fill="#C67BFF"/>
<rect x="936.43" y="368.92" width="5.8" height="68.98" fill="#C67BFF"/>
<path d="M649 438.4v9.5M659.94 438.4v2.5M670.88 438.4v2.5M681.82 438.4v9.5M692.76 438.4v2.5M703.7 438.4v9.5M714.64 438.4v2.5M725.59 438.4v9.5M736.53 438.4v2.5M747.47 438.4v9.5M758.41 438.4v2.5M769.35 438.4v9.5M780.29 438.4v2.5M791.23 438.4v9.5M802.17 438.4v2.5M813.11 438.4v2.5M824.05 438.4v9.5M834.99 438.4v2.5M845.93 438.4v9.5M856.87 438.4v2.5M867.81 438.4v9.5M878.76 438.4v2.5M889.7 438.4v9.5M900.64 438.4v2.5M911.58 438.4v9.5M922.52 438.4v2.5M933.46 438.4v2.5M944.4 438.4v9.5" stroke="#888" stroke-width="0.8"/>
<text x="665.41" y="450.1" text-anchor="middle" font-weight="bold" font-size="6">I</text>
<text x="692.76" y="450.1" text-anchor="middle" font-weight="bold" font-size="6">II</text>
<text x="714.64" y="450.1" text-anchor="middle" font-weight="bold" font-size="6">III</text>
<text x="736.53" y="450.1" text-anchor="middle" font-weight="bold" font-size="6">IV</text>
<text x="758.41" y="450.1" text-anchor="middle" font-weight="bold" font-size="6">V</text>
<text x="780.29" y="450.1" text-anchor="middle" font-weight="bold" font-size="6">VI</text>
<text x="807.64" y="450.1" text-anchor="middle" font-weight="bold" font-size="6">VII</text>
<text x="834.99" y="450.1" text-anchor="middle" font-weight="bold" font-size="6">VIII</text>
<text x="856.87" y="450.1" text-anchor="middle" font-weight="bold" font-size="6">IX</text>
<text x="878.76" y="450.1" text-anchor="middle" font-weight="bold" font-size="6">X</text>
<text x="900.64" y="450.1" text-anchor="middle" font-weight="bold" font-size="6">XI</text>
<text x="927.99" y="450.1" text-anchor="middle" font-weight="bold" font-size="6">XII</text>
<line x1="649" x2="649" y1="284.6" y2="437.9" stroke="#c8c8c8" stroke-width="1.6"/>
<line x1="649" x2="944.4" y1="437.9" y2="437.9" stroke="#777" stroke-width="1"/>
<rect x="24.18" y="603.75" width="5.8" height="28.85" fill="#C67BFF"/>
<rect x="35.55" y="614.34" width="5.8" height="18.26" fill="#C67BFF"/>
<rect x="46.91" y="618.36" width="5.8" height="14.24" fill="#C67BFF"/>
<rect x="58.28" y="622.01" width="5.8" height="10.59" fill="#C67BFF"/>
<rect x="69.64" y="625.48" width="5.8" height="7.12" fill="#C67BFF"/>
<rect x="81.01" y="629.06" width="5.8" height="3.54" fill="#C67BFF"/>
<rect x="92.38" y="618.36" width="5.8" height="14.24" fill="#C67BFF"/>
<rect x="103.74" y="622.01" width="5.8" height="10.59" fill="#C67BFF"/>
<rect x="115.11" y="625.48" width="5.8" height="7.12" fill="#C67BFF"/>
<rect x="126.47" y="628.95" width="5.8" height="3.65" fill="#C67BFF"/>
<rect x="137.84" y="628.95" width="5.8" height="3.65" fill="#C67BFF"/>
<rect x="149.2" y="628.95" width="5.8" height="3.65" fill="#C67BFF"/>
<rect x="160.57" y="628.95" width="5.8" height="3.65" fill="#C67BFF"/>
<rect x="171.93" y="628.95" width="5.8" height="3.65" fill="#C67BFF"/>
<rect x="183.3" y="628.95" width="5.8" height="3.65" fill="#C67BFF"/>
<rect x="194.66" y="628.95" width="5.8" height="3.65" fill="#C67BFF"/>
<rect x="206.03" y="628.95" width="5.8" height="3.65" fill="#C67BFF"/>
<rect x="217.39" y="625.48" width="5.8" height="7.12" fill="#C67BFF"/>
<rect x="228.76" y="628.95" width="5.8" height="3.65" fill="#C67BFF"/>
<rect x="240.12" y="618.36" width="5.8" height="14.24" fill="#C67BFF"/>
<rect x="251.49" y="622.01" width="5.8" height="10.59" fill="#C67BFF"/>
<rect x="262.86" y="607.4" width="5.8" height="25.2" fill="#C67BFF"/>
<rect x="274.22" y="622.01" width="5.8" height="10.59" fill="#C67BFF"/>
<rect x="285.59" y="611.23" width="5.8" height="21.37" fill="#C67BFF"/>
<rect x="296.95" y="614.34" width="5.8" height="18.26" fill="#C67BFF"/>
<path d="M21 633.1v9.5M32.37 633.1v2.5M43.73 633.1v9.5M55.1 633.1v2.5M66.46 633.1v9.5M77.83 633.1v2.5M89.19 633.1v9.5M100.56 633.1v2.5M111.92 633.1v9.5M123.29 633.1v2.5M134.65 633.1v9.5M146.02 633.1v2.5M157.38 633.1v2.5M168.75 633.1v9.5M180.12 633.1v2.5M191.48 633.1v9.5M202.85 633.1v2.5M214.21 633.1v9.5M225.58 633.1v2.5M236.94 633.1v9.5M248.31 633.1v2.5M259.67 633.1v9.5M271.04 633.1v2.5M282.4 633.1v2.5M293.77 633.1v9.5M305.13 633.1v2.5M316.5 633.1v9.5" stroke="#888" stroke-width="0.8"/>
<text x="32.37" y="644.8" text-anchor="middle" font-weight="bold" font-size="6">I</text>
<text x="55.1" y="644.8" text-anchor="middle" font-weight="bold" font-size="6">II</text>
<text x="77.83" y="644.8" text-anchor="middle" font-weight="bold" font-size="6">III</text>
<text x="100.56" y="644.8" text-anchor="middle" font-weight="bold" font-size="6">IV</text>
<text x="123.29" y="644.8" text-anchor="middle" font-weight="bold" font-size="6">V</text>
<text x="151.7" y="644.8" text-anchor="middle" font-weight="bold" font-size="6">VI</text>
<text x="180.12" y="644.8" text-anchor="middle" font-weight="bold" font-size="6">VII</text>
<text x="202.85" y="644.8" text-anchor="middle" font-weight="bold" font-size="6">VIII</text>
<text x="225.58" y="644.8" text-anchor="middle" font-weight="bold" font-size="6">IX</text>
<text x="248.31" y="644.8" text-anchor="middle" font-weight="bold" font-size="6">X</text>
<text x="276.72" y="644.8" text-anchor="middle" font-weight="bold" font-size="6">XI</text>
<text x="305.13" y="644.8" text-anchor="middle" font-weight="bold" font-size="6">XII</text>
<line x1="21" x2="21" y1="479.2" y2="632.6" stroke="#999" stroke-width="1.6"/>
<line x1="21" x2="316.5" y1="632.6" y2="632.6" stroke="#777" stroke-width="1"/>
<rect x="348.63" y="582.01" width="5.8" height="50.59" fill="#C67BFF"/>
<rect x="359.58" y="626.03" width="5.8" height="6.57" fill="#C67BFF"/>
<rect x="381.48" y="622.48" width="5.8" height="10.12" fill="#C67BFF"/>
<rect x="392.44" y="629.24" width="5.8" height="3.36" fill="#C67BFF"/>
<rect x="403.39" y="630.12" width="5.8" height="2.48" fill="#C67BFF"/>
<rect x="414.34" y="618.36" width="5.8" height="14.24" fill="#C67BFF"/>
<rect x="425.29" y="620.18" width="5.8" height="12.42" fill="#C67BFF"/>
<rect x="436.24" y="617.26" width="5.8" height="15.34" fill="#C67BFF"/>
<rect x="447.19" y="619.09" width="5.8" height="13.51" fill="#C67BFF"/>
<rect x="458.15" y="620.18" width="5.8" height="12.42" fill="#C67BFF"/>
<rect x="469.1" y="622.74" width="5.8" height="9.86" fill="#C67BFF"/>
<rect x="480.05" y="630.77" width="5.8" height="1.83" fill="#C67BFF"/>
<rect x="491" y="627.12" width="5.8" height="5.48" fill="#C67BFF"/>
<rect x="501.95" y="627.63" width="5.8" height="4.97" fill="#C67BFF"/>
<rect x="512.91" y="624.56" width="5.8" height="8.04" fill="#C67BFF"/>
<rect x="523.86" y="625.3" width="5.8" height="7.3" fill="#C67BFF"/>
<rect x="534.81" y="626.39" width="5.8" height="6.21" fill="#C67BFF"/>
<rect x="545.76" y="625.3" width="5.8" height="7.3" fill="#C67BFF"/>
<rect x="556.71" y="629.31" width="5.8" height="3.29" fill="#C67BFF"/>
<rect x="567.66" y="612.15" width="5.8" height="20.45" fill="#C67BFF"/>
<rect x="578.62" y="626.21" width="5.8" height="6.39" fill="#C67BFF"/>
<rect x="589.57" y="626.21" width="5.8" height="6.39" fill="#C67BFF"/>
<rect x="600.52" y="622.01" width="5.8" height="10.59" fill="#C67BFF"/>
<rect x="611.47" y="614.52" width="5.8" height="18.08" fill="#C67BFF"/>
<rect x="622.42" y="618.36" width="5.8" height="14.24" fill="#C67BFF"/>
<path d="M334.7 633.1v9.5M345.65 633.1v2.5M356.6 633.1v2.5M367.56 633.1v9.5M378.51 633.1v2.5M389.46 633.1v9.5M400.41 633.1v2.5M411.36 633.1v9.5M422.31 633.1v2.5M433.27 633.1v9.5M444.22 633.1v2.5M455.17 633.1v9.5M466.12 633.1v2.5M477.07 633.1v9.5M488.03 633.1v2.5M498.98 633.1v2.5M509.93 633.1v9.5M520.88 633.1v2.5M531.83 633.1v9.5M542.79 633.1v2.5M553.74 633.1v9.5M564.69 633.1v2.5M575.64 633.1v9.5M586.59 633.1v2.5M597.54 633.1v9.5M608.5 633.1v2.5M619.45 633.1v2.5M630.4 633.1v9.5" stroke="#888" stroke-width="0.8"/>
<text x="351.13" y="644.8" text-anchor="middle" font-weight="bold" font-size="6">I</text>
<text x="378.51" y="644.8" text-anchor="middle" font-weight="bold" font-size="6">II</text>
<text x="400.41" y="644.8" text-anchor="middle" font-weight="bold" font-size="6">III</text>
<text x="422.31" y="644.8" text-anchor="middle" font-weight="bold" font-size="6">IV</text>
<text x="444.22" y="644.8" text-anchor="middle" font-weight="bold" font-size="6">V</text>
<text x="466.12" y="644.8" text-anchor="middle" font-weight="bold" font-size="6">VI</text>
<text x="493.5" y="644.8" text-anchor="middle" font-weight="bold" font-size="6">VII</text>
<text x="520.88" y="644.8" text-anchor="middle" font-weight="bold" font-size="6">VIII</text>
<text x="542.79" y="644.8" text-anchor="middle" font-weight="bold" font-size="6">IX</text>
<text x="564.69" y="644.8" text-anchor="middle" font-weight="bold" font-size="6">X</text>
<text x="586.59" y="644.8" text-anchor="middle" font-weight="bold" font-size="6">XI</text>
<text x="613.97" y="644.8" text-anchor="middle" font-weight="bold" font-size="6">XII</text>
<line x1="334.7" x2="334.7" y1="479.2" y2="632.6" stroke="#888" stroke-width="1.6"/>
<line x1="334.7" x2="630.4" y1="632.6" y2="632.6" stroke="#777" stroke-width="1"/>
<path d="M651.32 630.4v-14.11M652.42 630.4v-5.43M653.69 630.4v-14.11M654.79 630.4v-21.35M656.06 630.4v-24.25M656.85 630.4v-21.35M658.43 630.4v-19.9M659.53 630.4v-30.04M661.59 630.4v-9.41M663.17 630.4v-10.13M664.27 630.4v-19.9M666.33 630.4v-11.22M668.38 630.4v-8.32M671.54 630.4v-4.34M676.28 630.4v-11.58M677.39 630.4v-20.63M678.49 630.4v-17.37M680.55 630.4v-10.5M681.65 630.4v-20.63M682.91 630.4v-9.41M685.28 630.4v-8.69M686.39 630.4v-7.96M687.65 630.4v-8.69M688.92 630.4v-10.13M690.5 630.4v-25.33M692.39 630.4v-13.03M693.97 630.4v-7.96M695.24 630.4v-9.41M697.45 630.4v-14.11M698.4 630.4v-25.7M700.29 630.4v-6.15M702.66 630.4v-4.34M704.72 630.4v-9.41M705.51 630.4v-14.84M707.88 630.4v-12.3M710.09 630.4v-14.11M712.14 630.4v-2.53M714.51 630.4v-3.98M717.35 630.4v-10.13M719.25 630.4v-6.15M722.41 630.4v-11.58M723.99 630.4v-16.29M725.88 630.4v-7.96M727.46 630.4v-20.99M729.04 630.4v-8.69M731.1 630.4v-3.98M733.15 630.4v-3.98M735.05 630.4v-3.98M736.63 630.4v-2.53M739 630.4v-6.15M740.58 630.4v-8.69M742.16 630.4v-8.69M743.74 630.4v-7.24M746.11 630.4v-4.7M748.48 630.4v-5.43M749.58 630.4v-14.84M751.16 630.4v-11.94M753.69 630.4v-3.98M755.58 630.4v-3.26M758.43 630.4v-5.43M760.64 630.4v-7.24M763.17 630.4v-12.67M764.27 630.4v-11.94M766.33 630.4v-7.24M768.54 630.4v-9.41M770.59 630.4v-3.26M772.65 630.4v-12.3M774.23 630.4v-6.15M776.12 630.4v-5.43M777.7 630.4v-9.41M780.07 630.4v-7.96M782.44 630.4v-3.98M783.7 630.4v-11.22M785.6 630.4v-11.58M787.97 630.4v-3.26M790.34 630.4v-1.45M792.71 630.4v-2.53M795.79 630.4v-6.15M797.37 630.4v-8.69M799.42 630.4v-2.53M802.11 630.4v-14.84M804.48 630.4v-5.43M806.85 630.4v-10.13M807.64 630.4v-9.41M809.53 630.4v-7.24M811.59 630.4v-13.75M812.69 630.4v-11.22M814.27 630.4v-11.58M817.91 630.4v-2.53M819.49 630.4v-5.43M821.54 630.4v-6.15M823.75 630.4v-6.15M826.6 630.4v-0.72M829.44 630.4v-9.41M838.44 630.4v-7.24M840.5 630.4v-10.13M841.6 630.4v-14.11M843.66 630.4v-9.41M845.87 630.4v-6.15M848.71 630.4v-13.03M851.56 630.4v-25.33M853.14 630.4v-7.24M855.51 630.4v-8.32M858.19 630.4v-7.24M860.56 630.4v-2.53M862.61 630.4v-19.54M863.72 630.4v-18.1M865.3 630.4v-7.96M867.67 630.4v-9.41M869.25 630.4v-7.24M870.83 630.4v-8.69M873.2 630.4v-0.72M874.78 630.4v-23.16M875.88 630.4v-18.1M877.46 630.4v-12.3M879.52 630.4v-8.32M881.89 630.4v-11.94M883.47 630.4v-12.67M885.36 630.4v-11.94M886.63 630.4v-28.95M888.21 630.4v-16.65M889.47 630.4v-36.19M891.68 630.4v-11.22M892.95 630.4v-9.41M894.53 630.4v-5.43M896.42 630.4v-18.1M898.95 630.4v-16.65M900.06 630.4v-11.22M902.42 630.4v-10.13M904 630.4v-11.22M904.79 630.4v-44.88M906.37 630.4v-32.57M907.95 630.4v-20.63M909.53 630.4v-21.35M911.59 630.4v-23.16M913.17 630.4v-19.9M914.75 630.4v-17.37M916.64 630.4v-18.1M919.01 630.4v-10.13M920.59 630.4v-18.1M921.38 630.4v-31.49M923.75 630.4v-28.59M925.81 630.4v-18.1M926.91 630.4v-8.69M928.97 630.4v-9.41M930.86 630.4v-10.13M933.7 630.4v-20.63M936.39 630.4v-17.37M938.44 630.4v-11.94M940.34 630.4v-3.98M942.71 630.4v-7.96" stroke="#6CF03C" stroke-width="0.9" fill="none"/>
<rect x="649" y="630.9" width="295.4" height="3" fill="#b8b8b8"/>
<path d="M649 630.9v3M653.86 630.9v3M658.71 630.9v3M663.57 630.9v3M668.42 630.9v3M673.28 630.9v3M678.14 630.9v3M682.99 630.9v3M687.85 630.9v3M692.7 630.9v3M697.56 630.9v3M702.41 630.9v3M707.27 630.9v3M712.13 630.9v3M716.98 630.9v3M721.84 630.9v3M726.69 630.9v3M731.55 630.9v3M736.41 630.9v3M741.26 630.9v3M746.12 630.9v3M750.97 630.9v3M755.83 630.9v3M760.69 630.9v3M765.54 630.9v3M770.4 630.9v3M775.25 630.9v3M780.11 630.9v3M784.96 630.9v3M789.82 630.9v3M794.68 630.9v3M799.53 630.9v3M804.39 630.9v3M809.24 630.9v3M814.1 630.9v3M818.96 630.9v3M823.81 630.9v3M828.67 630.9v3M833.52 630.9v3M838.38 630.9v3M843.24 630.9v3M848.09 630.9v3M852.95 630.9v3M857.8 630.9v3M862.66 630.9v3M867.52 630.9v3M872.37 630.9v3M877.23 630.9v3M882.08 630.9v3M886.94 630.9v3M891.79 630.9v3M896.65 630.9v3M901.51 630.9v3M906.36 630.9v3M911.22 630.9v3M916.07 630.9v3M920.93 630.9v3M925.79 630.9v3M930.64 630.9v3M935.5 630.9v3M940.35 630.9v3" stroke="#555" stroke-width="0.8"/>
<path d="M649 633.9v7.5M674.09 633.9v7.5M696.75 633.9v7.5M721.84 633.9v7.5M746.12 633.9v7.5M771.21 633.9v7.5M795.49 633.9v7.5M820.57 633.9v7.5M845.66 633.9v7.5M869.94 633.9v7.5M895.03 633.9v7.5M919.31 633.9v7.5M944.4 633.9v7.5" stroke="#888" stroke-width="0.9"/>
<text x="661.54" y="636.6" transform="rotate(-90 661.54 636.6)" text-anchor="end" dominant-baseline="central" font-weight="bold" font-size="6.5" stroke="#000" stroke-width="0.15">I</text>
<text x="685.42" y="636.6" transform="rotate(-90 685.42 636.6)" text-anchor="end" dominant-baseline="central" font-weight="bold" font-size="6.5" stroke="#000" stroke-width="0.15">II</text>
<text x="709.29" y="636.6" transform="rotate(-90 709.29 636.6)" text-anchor="end" dominant-baseline="central" font-weight="bold" font-size="6.5" stroke="#000" stroke-width="0.15">III</text>
<text x="733.98" y="636.6" transform="rotate(-90 733.98 636.6)" text-anchor="end" dominant-baseline="central" font-weight="bold" font-size="6.5" stroke="#000" stroke-width="0.15">IV</text>
<text x="758.66" y="636.6" transform="rotate(-90 758.66 636.6)" text-anchor="end" dominant-baseline="central" font-weight="bold" font-size="6.5" stroke="#000" stroke-width="0.15">V</text>
<text x="783.35" y="636.6" transform="rotate(-90 783.35 636.6)" text-anchor="end" dominant-baseline="central" font-weight="bold" font-size="6.5" stroke="#000" stroke-width="0.15">VI</text>
<text x="808.03" y="636.6" transform="rotate(-90 808.03 636.6)" text-anchor="end" dominant-baseline="central" font-weight="bold" font-size="6.5" stroke="#000" stroke-width="0.15">VII</text>
<text x="833.12" y="636.6" transform="rotate(-90 833.12 636.6)" text-anchor="end" dominant-baseline="central" font-weight="bold" font-size="6.5" stroke="#000" stroke-width="0.15">VIII</text>
<text x="857.8" y="636.6" transform="rotate(-90 857.8 636.6)" text-anchor="end" dominant-baseline="central" font-weight="bold" font-size="6.5" stroke="#000" stroke-width="0.15">IX</text>
<text x="882.49" y="636.6" transform="rotate(-90 882.49 636.6)" text-anchor="end" dominant-baseline="central" font-weight="bold" font-size="6.5" stroke="#000" stroke-width="0.15">X</text>
<text x="907.17" y="636.6" transform="rotate(-90 907.17 636.6)" text-anchor="end" dominant-baseline="central" font-weight="bold" font-size="6.5" stroke="#000" stroke-width="0.15">XI</text>
<text x="931.86" y="636.6" transform="rotate(-90 931.86 636.6)" text-anchor="end" dominant-baseline="central" font-weight="bold" font-size="6.5" stroke="#000" stroke-width="0.15">XII</text>
<line x1="649" x2="649" y1="478.4" y2="630.4" stroke="#c8c8c8" stroke-width="1.6"/>
<line x1="649" x2="944.4" y1="630.4" y2="630.4" stroke="#777" stroke-width="1"/>
<line x1="21" x2="316.5" y1="219.39" y2="219.39" stroke="#F00" stroke-width="1.9"/>
<line x1="334.7" x2="630.4" y1="219.39" y2="219.39" stroke="#F00" stroke-width="1.9"/>
<line x1="649" x2="944.4" y1="219.39" y2="219.39" stroke="#F00" stroke-width="1.9"/>
<line x1="21" x2="316.5" y1="416" y2="416" stroke="#F00" stroke-width="1.9"/>
<line x1="334.7" x2="630.4" y1="416" y2="416" stroke="#F00" stroke-width="1.9"/>
<line x1="649" x2="944.4" y1="416" y2="416" stroke="#F00" stroke-width="1.9"/>
<line x1="21" x2="316.5" y1="610.39" y2="610.39" stroke="#F00" stroke-width="1.9"/>
<line x1="334.7" x2="630.4" y1="610.39" y2="610.39" stroke="#F00" stroke-width="1.9"/>
<line x1="334.7" x2="630.4" y1="611.12" y2="611.12" stroke="#F00" stroke-width="1.9"/>
<line x1="649" x2="944.4" y1="608.39" y2="608.39" stroke="#F00" stroke-width="1.9"/>
<rect x="140.3" y="102.3" width="62.5" height="15.9" fill="#fff" stroke="#a4a4a4" stroke-width="0.9"/>
<text transform="translate(144.4 112.75) scale(0.82 1)" font-weight="bold" font-size="7" letter-spacing="0.3">RP = 8.6 ng/m3</text>
<rect x="456.3" y="101.3" width="59.5" height="16.3" fill="#fff" stroke="#a4a4a4" stroke-width="0.9"/>
<text transform="translate(460.4 111.95) scale(0.82 1)" font-weight="bold" font-size="7" letter-spacing="0.3">RP = 7.7 ng/m3</text>
<rect x="770.2" y="101.3" width="59.5" height="16.3" fill="#fff" stroke="#a4a4a4" stroke-width="0.9"/>
<text transform="translate(774.3 111.95) scale(0.82 1)" font-weight="bold" font-size="7" letter-spacing="0.3">RP = 6.0 ng/m3</text>
<rect x="143.2" y="297.3" width="58.8" height="14.5" fill="#fff" stroke="#a4a4a4" stroke-width="0.9"/>
<text transform="translate(147.3 307.05) scale(0.82 1)" font-weight="bold" font-size="7" letter-spacing="0.3">RP = 5.3 ng/m3</text>
<rect x="456.3" y="297.3" width="59.5" height="14.7" fill="#fff" stroke="#a4a4a4" stroke-width="0.9"/>
<text transform="translate(460.4 307.15) scale(0.82 1)" font-weight="bold" font-size="7" letter-spacing="0.3">RP = 4.0 ng/m3</text>
<rect x="770.2" y="297.3" width="59.6" height="14.3" fill="#fff" stroke="#a4a4a4" stroke-width="0.9"/>
<text transform="translate(774.3 306.95) scale(0.82 1)" font-weight="bold" font-size="7" letter-spacing="0.3">RP = 3.5 ng/m3</text>
<rect x="142.4" y="493.2" width="59.2" height="16.4" fill="#fff" stroke="#a4a4a4" stroke-width="0.9"/>
<text transform="translate(146.5 503.9) scale(0.82 1)" font-weight="bold" font-size="7" letter-spacing="0.3">RP = 3.1 ng/m3</text>
<rect x="456.3" y="491.3" width="59.5" height="15.5" fill="#fff" stroke="#a4a4a4" stroke-width="0.9"/>
<text transform="translate(460.4 501.55) scale(0.82 1)" font-weight="bold" font-size="7" letter-spacing="0.3">RP = 3.0 ng/m3</text>
<rect x="770.2" y="491.3" width="59.5" height="16.3" fill="#fff" stroke="#a4a4a4" stroke-width="0.9"/>
<text transform="translate(774.3 501.95) scale(0.82 1)" font-weight="bold" font-size="7" letter-spacing="0.3">RP = 2.9 ng/m3</text>
<text transform="translate(342.6 85.4) scale(0.8 1)" font-size="7.5" font-weight="bold">[43] [46]</text>
<text transform="translate(603.5 85.4) scale(0.8 1)" font-size="7.5" font-weight="bold">[49] [43]</text>
<text x="1.9" y="677.6" font-size="24.3">1/14denní průměrné koncentrace arsenu v ovzduší na vybraných stanicích v roce 2009</text>
</svg></body></html>
